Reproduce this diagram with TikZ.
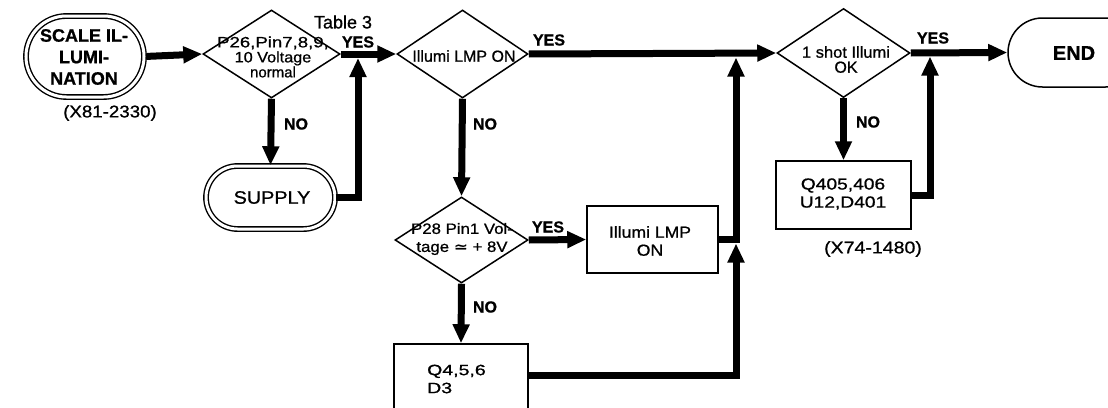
\documentclass[tikz,border=0pt]{standalone}
\usepackage{fontspec}
\setmainfont{Liberation Sans}[FakeBold=0.8]
\newfontfamily\djv{DejaVu Sans}[FakeBold=0.8]
\usepackage{graphicx}
\usetikzlibrary{shapes.geometric,shapes.misc,arrows.meta}
\newcommand{\hs}[2]{\scalebox{#1}[1]{#2}}
\newcommand{\fs}[2]{\fontsize{#1}{#2}\selectfont}
\begin{document}
\begin{tikzpicture}[x=1pt,y=-1pt,
  dbl/.style={rounded rectangle, draw, line width=1.4pt, double, double distance=3pt, inner sep=0pt},
  dec/.style={diamond, draw, line width=1.5pt, inner sep=0pt},
  box/.style={rectangle, draw, line width=1.5pt, inner sep=0pt},
  txt/.style={inner sep=0pt, align=center},
  lbl/.style={inner sep=0pt, font=\bfseries\fs{16}{16}},
  flow/.style={line width=7pt, -{Triangle[length=19pt,width=16pt]}}]
\useasboundingbox (0,0) rectangle (1108,407);
\clip (0,0) rectangle (1108,407);

% start
\node[dbl, minimum width=118pt, minimum height=81pt] (start) at (85,56.5) {};
\node[txt, font=\bfseries\fs{18}{21.5}] (startt) at (84,57) {SCALE IL-\\LUMI-\\NATION};
\node[txt, font=\fs{17}{17}] (startc) at (110,113) {\hs{1.1}{(X81-2330)}};

% decision 1
\node[dec, minimum width=137pt, minimum height=88pt] (d1) at (271.5,54) {};
\node[txt, font=\fs{15}{15}] (d1t) at (273,57) {\hs{1.24}{P26,Pin7,8,9,}\\\hs{1.08}{10 Voltage}\\normal};
\node[txt, font=\fs{18}{18}] (tab) at (343,22) {Table 3};
\node[lbl] (y1) at (358,42) {YES};
\node[lbl] (n1) at (296,124) {NO};

% supply
\node[dbl, minimum width=129pt, minimum height=63pt] (sup) at (270.5,197.5) {};
\node[txt, font=\fs{18}{18}] (supt) at (272,197.5) {\hs{1.1}{SUPPLY}};

% decision 2
\node[dec, minimum width=131pt, minimum height=88pt] (d2) at (462.5,54) {};
\node[txt, font=\fs{16}{16}] (d2t) at (464,56) {Illumi LMP ON};
\node[lbl] (y2) at (549,40) {YES};
\node[lbl] (n2) at (485,124) {NO};

% decision P28
\node[dec, minimum width=133pt, minimum height=86pt] (d4) at (461.5,240) {};
\node[txt, font=\fs{15}{18}] (d4t) at (462,239) {\hs{1.12}{P28 Pin1 Vol-}\\\hs{1.12}{tage {\djv ≃} + 8V}};
\node[lbl] (y4) at (548,227) {YES};
\node[lbl] (n4) at (485,307) {NO};

% lamp box
\node[box, minimum width=131pt, minimum height=67pt] (lmp) at (652.5,239.5) {};
\node[txt, font=\fs{16}{18}] (lmpt) at (650,241) {\hs{1.1}{Illumi LMP}\\\hs{1.1}{ON}};

% Q4 box
\node[box, minimum width=134pt, minimum height=72pt] (q4) at (461,380) {};
\node[txt, font=\fs{15}{18}, align=left, anchor=west] (q4t) at (427,379) {\hs{1.3}{Q4,5,6}\\\hs{1.3}{D3}};

% decision 3
\node[dec, minimum width=133pt, minimum height=89pt] (d3) at (843.5,53) {};
\node[txt, font=\fs{16}{15}] (d3t) at (846,59.5) {\hs{1.03}{1 shot Illumi}\\OK};
\node[lbl] (y3) at (933,38) {YES};
\node[lbl] (n3) at (868,122) {NO};

% Q405 box
\node[box, minimum width=135pt, minimum height=68pt] (q405) at (843.5,195) {};
\node[txt, font=\fs{16}{18}] (q405t) at (843,194) {\hs{1.2}{Q405,406}\\\hs{1.2}{U12,D401}};
\node[txt, font=\fs{17}{17}] (q405c) at (873,249) {\hs{1.15}{(X74-1480)}};

% end
\node[rounded rectangle, draw, line width=1.5pt, minimum width=132pt, minimum height=69pt, inner sep=0pt] (end) at (1074,52.5) {};
\node[txt, font=\bfseries\fs{20}{20}] (endt) at (1074,53) {END};

% junctions
\coordinate (j1) at (358,58);
\coordinate (j2) at (736,57.5);
\coordinate (j3) at (736,243.5);
\coordinate (j4) at (930,56.5);
\coordinate (q4o) at ([yshift=5pt]q4.east);

% connectors
\draw[flow, shorten <=2pt] (start.east) -- (d1.west);
\draw[flow] (d1.east) -- (d2.west);
\draw[flow] (d1.south) -- (sup.north);
\draw[flow] (sup.east) -| (j1);
\draw[flow] (d2.east) -- (d3.west);
\draw[flow] (d2.south) -- (d4.north);
\draw[flow] (d4.east) -- (lmp.west);
\draw[flow] (d4.south) -- (q4.north);
\draw[flow] (lmp.east) -| (j2);
\draw[flow] (q4o) -| (j3);
\draw[flow] (d3.east) -- (end.west);
\draw[flow] (d3.south) -- (q405.north);
\draw[flow] (q405.east) -| (j4);
\end{tikzpicture}
\end{document}
